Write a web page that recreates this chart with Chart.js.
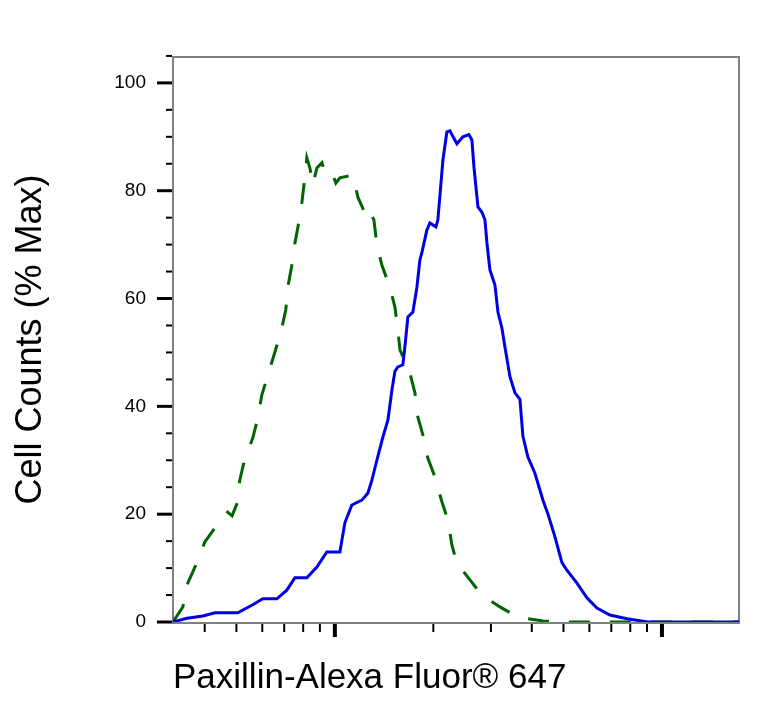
<!DOCTYPE html>
<html>
<head>
<meta charset="utf-8">
<script src="https://cdn.jsdelivr.net/npm/chart.js@4.4.0/dist/chart.umd.min.js"></script>
<style>
  html, body { margin: 0; padding: 0; background: #fff; }
  #wrap { width: 773px; height: 709px; }
</style>
</head>
<body>
<div id="wrap"><canvas id="histChart" width="773" height="709"></canvas></div>
<script>
// stained sample (solid blue)
const stainedX = [320, 353, 395, 430, 505, 561, 602, 665, 713, 755, 821, 881, 945, 1036, 1073, 1127, 1209, 1261, 1298, 1344,
  1402, 1453, 1494, 1526, 1558, 1614, 1637, 1672, 1732, 1781, 1820, 1845, 1911, 1952, 2036, 2065, 2140, 2200, 2247, 2361,
  2463, 2569, 2624, 2662, 2738, 2816, 2876, 2917, 2979, 3086, 3152, 3242, 3311, 3430, 3553, 3680, 3757, 3892, 4089, 4327,
  4483, 4708, 4946, 5122, 5497, 5896, 6327, 6934, 7817, 9063, 17200];
const stainedY = [0, 0.7, 1.1, 1.7, 1.7, 3.2, 4.3, 4.3, 5.9, 8.2, 8.2, 10.2, 13.0, 13.0, 18.4, 21.7, 22.6, 23.9, 26.3, 30,
  34.3, 37.5, 43, 46.5, 47.3, 47.7, 51, 56.6, 57.5, 62, 67.2, 68.5, 72.7, 74, 73.3, 74.6, 85.7, 90.9, 91.1, 88.7,
  90, 90.4, 89.4, 84.4, 77, 76, 74.6, 70.3, 65.3, 62.5, 57.5, 54.5, 51, 45.5, 42.5, 41.3, 34.5, 30.6, 27.6, 22.6,
  20, 15.8, 11, 9.6, 7.2, 4.5, 2.6, 1.3, 0.6, 0, 0];

// isotype control (dashed green)
const controlX = [320, 343, 355, 378, 400, 436, 470, 485, 503, 512, 531, 561, 581, 598, 624, 655, 684, 708, 718, 739,
  755, 776, 793, 810, 821, 839, 856, 881, 913, 932, 979, 1007, 1036, 1135, 1176, 1253, 1279, 1316, 1344, 1392,
  1473, 1526, 1558, 1581, 1696, 1757, 1794, 1858, 1924, 2022, 2124, 2216, 2279, 2361, 2588, 2816, 3197, 3628, 4327, 4877, 17200];
const controlY = [0, 2.8, 7.2, 10.9, 14.8, 18, 20.4, 19.7, 22.1, 26.3, 30.4, 34.1, 37.8, 42.1, 45.8, 50, 53.8, 57.9, 62.1, 66.2,
  70.3, 74.2, 77.9, 82.6, 86.1, 84.2, 81.1, 84.2, 85.2, 83.3, 83.5, 81.4, 82.4, 82.9, 78.8, 75, 76, 74.6, 70, 66.2,
  62.1, 58.4, 54.2, 50.5, 46.2, 42.5, 38, 34.7, 30.4, 26.9, 22.3, 18.9, 14.3, 10.9, 7.8, 5, 2.8, 0.9, 0.2, 0, 0];

const yMajorTicks = [0, 20, 40, 60, 80, 100];
const yMinorTicks = [5, 10, 15, 25, 30, 35, 45, 50, 55, 65, 70, 75, 85, 90, 95, 105];
const xMajorTicks = [1000, 10000];
const xMinorTicks = [400, 500, 600, 700, 800, 900, 2000, 3000, 4000, 5000, 6000, 7000, 8000, 9000];

const FONT = '"Liberation Sans", Arial, Helvetica, sans-serif';

function toPoints(xs, ys) {
  return xs.map((x, i) => ({ x: x, y: ys[i] }));
}

// box frame and tick marks (major ticks longer than minor ones)
const axisMarks = {
  id: 'axisMarks',
  beforeDatasetsDraw(chart) {
    const { ctx, chartArea: a, scales: { x, y } } = chart;
    const seg = (x1, y1, x2, y2, w) => {
      ctx.lineWidth = w;
      ctx.beginPath();
      ctx.moveTo(x1, y1);
      ctx.lineTo(x2, y2);
      ctx.stroke();
    };
    ctx.save();
    ctx.strokeStyle = '#808080';
    ctx.lineWidth = 2;
    ctx.strokeRect(a.left, a.top, a.right - a.left, a.bottom + 1 - a.top);
    ctx.strokeStyle = '#000';
    yMajorTicks.forEach(v => {
      const py = y.getPixelForValue(v);
      seg(a.left - 16, py, a.left - 1, py, 3);
    });
    yMinorTicks.forEach(v => {
      const py = y.getPixelForValue(v);
      seg(a.left - 7, py, a.left - 1, py, 2);
    });
    xMajorTicks.forEach(v => {
      const px = x.getPixelForValue(v);
      seg(px, a.bottom + 2, px, a.bottom + 15, 4);
    });
    xMinorTicks.forEach(v => {
      const px = x.getPixelForValue(v);
      seg(px, a.bottom + 2, px, a.bottom + 10, 2);
    });
    ctx.restore();
  }
};

const ctx = document.getElementById('histChart').getContext('2d');

const histChart = new Chart(ctx, {
  type: 'line',
  data: {
    datasets: [{
      label: 'Paxillin',
      data: toPoints(stainedX, stainedY),
      borderColor: '#0000e6',
      borderWidth: 3,
      pointRadius: 0,
      tension: 0,
      fill: false,
    }, {
      label: 'Isotype control',
      data: toPoints(controlX, controlY),
      borderColor: '#006400',
      borderWidth: 3,
      borderDash: [21, 20],
      pointRadius: 0,
      tension: 0,
      fill: false,
    }]
  },
  options: {
    responsive: false,
    animation: false,
    layout: { padding: { left: 0, top: 57, right: 34, bottom: 0 } },
    plugins: { legend: { display: false }, tooltip: { enabled: false } },
    scales: {
      x: {
        type: 'logarithmic',
        min: 320,
        max: 17200,
        afterFit: (scale) => { scale.height = 87; },
        grid: { display: false },
        border: { display: false },
        ticks: { display: false },
        title: {
          display: true,
          text: 'Paxillin-Alexa Fluor® 647',
          align: 'start',
          color: '#000',
          font: { family: FONT, size: 35, lineHeight: 1.2 },
          padding: { top: 0, bottom: 10 }
        }
      },
      y: {
        min: 0,
        max: 104.8,
        afterFit: (scale) => { scale.width = 173; },
        afterBuildTicks: (scale) => { scale.ticks = yMajorTicks.map(v => ({ value: v })); },
        grid: { color: 'rgba(0,0,0,0)', drawTicks: true, tickLength: 16 },
        border: { display: false },
        ticks: {
          color: '#000',
          padding: 11,
          font: { family: FONT, size: 19 }
        },
        title: {
          display: true,
          text: 'Cell Counts (% Max)',
          color: '#000',
          font: { family: FONT, size: 36, lineHeight: 1.2 },
          padding: { top: 9, bottom: 0 }
        }
      }
    }
  },
  plugins: [axisMarks]
});
</script>
</body>
</html>
